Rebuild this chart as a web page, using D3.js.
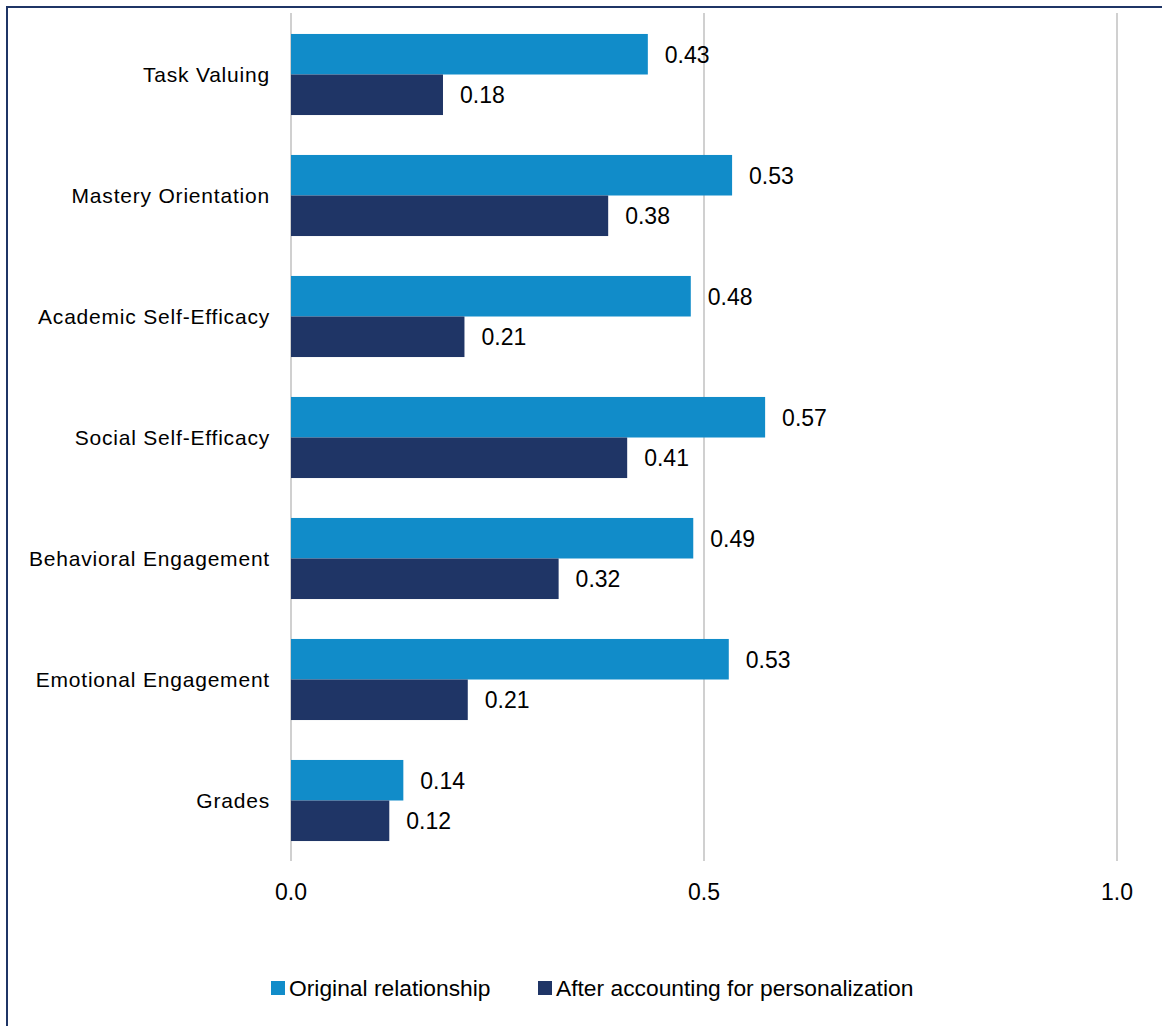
<!DOCTYPE html>
<html><head><meta charset="utf-8">
<script src="https://cdn.jsdelivr.net/npm/d3@7"></script>
<style>body{margin:0;background:#fff;} svg{display:block;}</style>
</head><body>
<svg id="chart" width="1162" height="1026"></svg>
<script>
const categories = ["Task Valuing","Mastery Orientation","Academic Self-Efficacy","Social Self-Efficacy","Behavioral Engagement","Emotional Engagement","Grades"];
const original = [0.432,0.534,0.484,0.574,0.487,0.530,0.136];
const after = [0.184,0.384,0.210,0.407,0.324,0.214,0.119];
const seriesNames = ["Original relationship","After accounting for personalization"];
const tickValues = [0,0.5,1.0];
const colors = ["#118CC9","#1F3566"];

const svg = d3.select("#chart");
const font = "'Liberation Sans', Arial, sans-serif";
svg.append("rect").attr("x",7).attr("y",7).attr("width",1162).attr("height",1026)
  .attr("fill","none").attr("stroke","#1F3566").attr("stroke-width",2);

const x = d3.scaleLinear().domain([0,1]).range([291,1117]);
const y = d3.scaleBand().domain(categories).range([14,861]).paddingInner(0.33).paddingOuter(0.165);
const sub = d3.scaleBand().domain([0,1]).range([0,y.bandwidth()]);

// gridlines
svg.append("g").selectAll("line").data(tickValues).join("line")
  .attr("x1",d=>x(d)).attr("x2",d=>x(d)).attr("y1",13).attr("y2",861)
  .attr("stroke","#D0D0D0").attr("stroke-width",2);

const data = categories.map((c,i)=>({c, vals:[original[i],after[i]]}));
const g = svg.append("g").selectAll("g").data(data).join("g")
  .attr("transform",d=>`translate(0,${y(d.c)})`);
g.selectAll("rect").data(d=>d.vals).join("rect")
  .attr("x",x(0)).attr("y",(d,i)=>sub(i)).attr("width",d=>x(d)-x(0)).attr("height",sub.bandwidth())
  .attr("fill",(d,i)=>colors[i]);
g.selectAll("text").data(d=>d.vals).join("text")
  .attr("x",d=>x(d)+17).attr("y",(d,i)=>sub(i)+sub.bandwidth()/2).attr("dy","0.36em")
  .attr("font-family",font).attr("font-size",23).attr("fill","#000")
  .text(d=>d3.format(".2f")(d));

// category labels
svg.append("g").selectAll("text").data(categories).join("text")
  .attr("x",270).attr("y",d=>y(d)+y.bandwidth()/2).attr("dy","0.36em")
  .attr("text-anchor","end").attr("font-family",font).attr("font-size",21)
  .attr("letter-spacing","0.8px").attr("fill","#000")
  .text(d=>d);

// x axis tick labels
svg.append("g").selectAll("text").data(tickValues).join("text")
  .attr("x",d=>x(d)).attr("y",892).attr("dy","0.36em").attr("text-anchor","middle")
  .attr("font-family",font).attr("font-size",23).attr("fill","#000")
  .text(d=>d3.format(".1f")(d));

// legend
const legX = [271, 538];
const leg = svg.append("g").selectAll("g").data(seriesNames).join("g")
  .attr("transform",(d,i)=>`translate(${legX[i]},988)`);
leg.append("rect").attr("x",0).attr("y",-7).attr("width",14).attr("height",14).attr("fill",(d,i)=>colors[i]);
leg.append("text").attr("x",18).attr("y",0).attr("dy","0.36em")
  .attr("font-family",font).attr("font-size",22.8).attr("fill","#000")
  .text(d=>d);
</script>
</body></html>
